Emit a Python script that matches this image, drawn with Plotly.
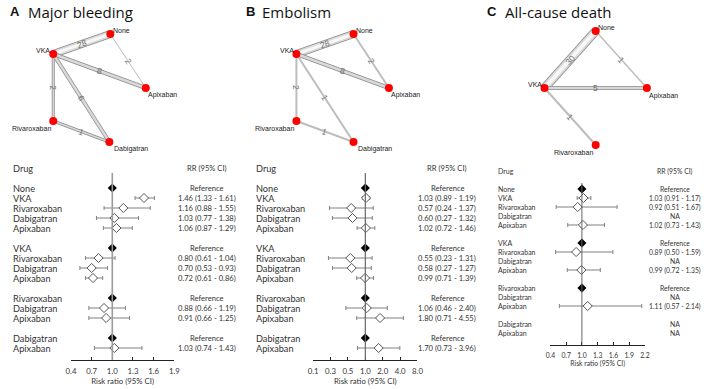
import math
import plotly.graph_objects as go

W, H = 709, 389

# ---------------- forest-plot data ----------------
drugs = ["None", "VKA", "Rivaroxaban", "Dabigatran", "Apixaban",
         "VKA", "Rivaroxaban", "Dabigatran", "Apixaban",
         "Rivaroxaban", "Dabigatran", "Apixaban",
         "Dabigatran", "Apixaban"]
group_sizes = [5, 4, 3, 2]

status_A = ["ref", "est", "est", "est", "est", "ref", "est", "est", "est",
            "ref", "est", "est", "ref", "est"]
rr_A = [1.0, 1.46, 1.16, 1.03, 1.06, 1.0, 0.80, 0.70, 0.72, 1.0, 0.88, 0.91, 1.0, 1.03]
lo_A = [None, 1.33, 0.88, 0.77, 0.87, None, 0.61, 0.53, 0.61, None, 0.66, 0.66, None, 0.74]
hi_A = [None, 1.61, 1.55, 1.38, 1.29, None, 1.04, 0.93, 0.86, None, 1.19, 1.25, None, 1.43]

status_B = list(status_A)
rr_B = [1.0, 1.03, 0.57, 0.60, 1.02, 1.0, 0.55, 0.58, 0.99, 1.0, 1.06, 1.80, 1.0, 1.70]
lo_B = [None, 0.89, 0.24, 0.27, 0.72, None, 0.23, 0.27, 0.71, None, 0.46, 0.71, None, 0.73]
hi_B = [None, 1.19, 1.37, 1.32, 1.46, None, 1.31, 1.27, 1.39, None, 2.40, 4.55, None, 3.96]

status_C = ["ref", "est", "est", "na", "est", "ref", "est", "na", "est",
            "ref", "na", "est", "na", "na"]
rr_C = [1.0, 1.03, 0.92, None, 1.02, 1.0, 0.89, None, 0.99, 1.0, None, 1.11, None, None]
lo_C = [None, 0.91, 0.51, None, 0.73, None, 0.50, None, 0.72, None, None, 0.57, None, None]
hi_C = [None, 1.17, 1.67, None, 1.43, None, 1.59, None, 1.35, None, None, 2.14, None, None]

ticks_lin_A = [0.4, 0.7, 1.0, 1.3, 1.6, 1.9]
ticks_log_B = [0.125, 0.25, 0.5, 1.0, 2.0, 4.0, 8.0]
ticktext_B = ["0.1", "0.3", "0.5", "1.0", "2.0", "4.0", "8.0"]
ticks_lin_C = [0.4, 0.7, 1.0, 1.3, 1.6, 1.9, 2.2]

# ---------------- network data ----------------
net_names_A = ["None", "VKA", "Apixaban", "Rivaroxaban", "Dabigatran"]
net_edges_A = [("VKA", "None", 28), ("None", "Apixaban", 2), ("VKA", "Apixaban", 8),
               ("VKA", "Rivaroxaban", 2), ("VKA", "Dabigatran", 6), ("Rivaroxaban", "Dabigatran", 1)]
net_names_B = ["None", "VKA", "Apixaban", "Rivaroxaban", "Dabigatran"]
net_edges_B = [("VKA", "None", 28), ("None", "Apixaban", 2), ("VKA", "Apixaban", 8),
               ("VKA", "Rivaroxaban", 2), ("VKA", "Dabigatran", 1), ("Rivaroxaban", "Dabigatran", 1)]
net_names_C = ["None", "VKA", "Apixaban", "Rivaroxaban"]
net_edges_C = [("VKA", "None", 30), ("None", "Apixaban", 1), ("VKA", "Apixaban", 5),
               ("VKA", "Rivaroxaban", 1)]

# network layout (pixel positions of nodes, edge drawing widths, label offsets)
layout_A = {"None": (107, 34), "VKA": (49, 54), "Apixaban": (143, 88),
            "Rivaroxaban": (49, 121), "Dabigatran": (106, 142)}
layout_B = {"None": (354, 34), "VKA": (296, 54), "Apixaban": (390, 88),
            "Rivaroxaban": (296, 121), "Dabigatran": (354, 142)}
layout_C = {"None": (600, 31), "VKA": (548, 88), "Apixaban": (652, 88),
            "Rivaroxaban": (600, 145)}
label_off = {"None": (11, -4), "VKA": (-10, -4), "Apixaban": (17, 7),
             "Rivaroxaban": (-22, 7), "Dabigatran": (22, 7)}
label_off_C = {"None": (11, -4), "VKA": (-10, -4), "Apixaban": (17, 8),
               "Rivaroxaban": (-23, 7)}
widths_A = [8, 1, 4, 3, 4, 3]
widths_B = [8, 2, 4, 2, 2, 2]
widths_C = [9, 1.5, 4, 2]

fig = go.Figure()

# ---------------- networks ----------------
def draw_network(names, edges, pos, widths, offs):
    for (a, b, n), w in zip(edges, widths):
        (x1, y1), (x2, y2) = pos[a], pos[b]
        if w <= 2:
            fig.add_trace(go.Scatter(x=[x1, x2], y=[y1, y2], mode="lines",
                                     line=dict(color="#bdbdbd", width=w),
                                     hoverinfo="skip", showlegend=False))
        else:
            fig.add_trace(go.Scatter(x=[x1, x2], y=[y1, y2], mode="lines",
                                     line=dict(color="#8c8c8c", width=w),
                                     hoverinfo="skip", showlegend=False))
            fig.add_trace(go.Scatter(x=[x1, x2], y=[y1, y2], mode="lines",
                                     line=dict(color="#d9d9d9", width=w - 1.6),
                                     hoverinfo="skip", showlegend=False))
            if w >= 6:
                fig.add_trace(go.Scatter(x=[x1, x2], y=[y1, y2], mode="lines",
                                         line=dict(color="#f7f7f7", width=w - 5),
                                         hoverinfo="skip", showlegend=False))
        ang = math.degrees(math.atan2(y2 - y1, x2 - x1))
        if ang > 90:
            ang -= 180
        if ang <= -90:
            ang += 180
        fig.add_annotation(x=(x1 + x2) / 2, y=(y1 + y2) / 2, xref="x", yref="y",
                           text=str(n), showarrow=False, textangle=ang,
                           font=dict(family="Liberation Sans", size=8.5, color="#707070"))
    fig.add_trace(go.Scatter(x=[pos[k][0] for k in names], y=[pos[k][1] for k in names],
                             mode="markers", marker=dict(color="#ff0000", size=8),
                             hoverinfo="skip", showlegend=False))
    for k in names:
        fig.add_annotation(x=pos[k][0] + offs[k][0], y=pos[k][1] + offs[k][1],
                           xref="x", yref="y", text=k, showarrow=False,
                           font=dict(family="Liberation Sans", size=7, color="#222"))

draw_network(net_names_A, net_edges_A, layout_A, widths_A, label_off)
draw_network(net_names_B, net_edges_B, layout_B, widths_B, label_off)
draw_network(net_names_C, net_edges_C, layout_C, widths_C, label_off_C)

# ---------------- forests ----------------
rows = []
r = 0
for g in group_sizes:
    for _ in range(g):
        rows.append(r)
        r += 1
    r += 1

def py(px):
    return 1 - px / H

FONT = "Lato"

panels = [
    dict(ax="2", status=status_A, rr=rr_A, lo=lo_A, hi=hi_A, xdom=(67, 172), ydom=(173, 360),
         r0=188, step=10, drug_x=6, rr_x=205, head_px=168, xtype="linear", xr=[0.4, 1.9],
         tv=ticks_lin_A, tt=[f"{v:.1f}" for v in ticks_lin_A], fs=9.2, vs=7.6, ts=7.8, lw=1.6,
         lc="#9a9a9a"),
    dict(ax="3", status=status_B, rr=rr_B, lo=lo_B, hi=hi_B, xdom=(313, 419), ydom=(173, 360),
         r0=188, step=10, drug_x=253, rr_x=449, head_px=168, xtype="log",
         xr=[math.log10(0.125), math.log10(8)], tv=ticks_log_B, tt=ticktext_B, fs=9.2, vs=7.6,
         ts=7.8, lw=1.2, lc="#666"),
    dict(ax="4", status=status_C, rr=rr_C, lo=lo_C, hi=hi_C, xdom=(554, 650), ydom=(183, 345),
         r0=189, step=9, drug_x=499, rr_x=681, head_px=171, xtype="linear", xr=[0.4, 2.2],
         tv=ticks_lin_C, tt=[f"{v:.1f}" for v in ticks_lin_C], fs=7.0, vs=6.8, ts=6.8, lw=1.0,
         lc="#666"),
]

for p in panels:
    a = p["ax"]
    top_r = (p["ydom"][0] - p["r0"]) / p["step"]
    bot_r = (p["ydom"][1] - p["r0"]) / p["step"]
    xa = "xaxis" + a
    ya = "yaxis" + a
    fig.layout[xa] = dict(domain=[p["xdom"][0] / W, p["xdom"][1] / W], anchor="y" + a,
                          type=p["xtype"], range=p["xr"], tickvals=p["tv"], ticktext=p["tt"],
                          showline=True, linecolor="#222", linewidth=1, ticks="inside",
                          ticklen=3, tickcolor="#222", showgrid=False, zeroline=False,
                          tickfont=dict(family=FONT, size=p["ts"], color="#333"),
                          ticklabelstandoff=4, fixedrange=True,
                          title=dict(text="Risk ratio (95% CI)", standoff=3,
                                     font=dict(family=FONT, size=p["ts"], color="#333")))
    fig.layout[ya] = dict(domain=[py(p["ydom"][1]), py(p["ydom"][0])], anchor="x" + a,
                          range=[bot_r, top_r], visible=False, fixedrange=True)
    fig.add_shape(type="line", xref="x" + a, yref="y" + a + " domain", x0=1, x1=1, y0=0, y1=1,
                  line=dict(color=p["lc"], width=p["lw"]))

    ex, ey, ep, em = [], [], [], []
    rx, ryy = [], []
    for i, st in enumerate(p["status"]):
        if st == "est":
            ex.append(p["rr"][i]); ey.append(rows[i])
            ep.append(p["hi"][i] - p["rr"][i]); em.append(p["rr"][i] - p["lo"][i])
        elif st == "ref":
            rx.append(p["rr"][i]); ryy.append(rows[i])
    fig.add_trace(go.Scatter(x=ex, y=ey, xaxis="x" + a, yaxis="y" + a, mode="markers",
                             error_x=dict(type="data", symmetric=False, array=ep, arrayminus=em,
                                          color="#808080", thickness=1, width=2),
                             marker=dict(symbol="diamond", size=7, color="white",
                                         line=dict(color="#555", width=1)),
                             hoverinfo="skip", showlegend=False))
    fig.add_trace(go.Scatter(x=rx, y=ryy, xaxis="x" + a, yaxis="y" + a, mode="markers",
                             marker=dict(symbol="diamond", size=7, color="black"),
                             hoverinfo="skip", showlegend=False))

    fig.add_annotation(x=p["drug_x"] / W, y=py(p["head_px"]), xref="paper", yref="paper",
                       text="Drug", xanchor="left", yanchor="middle", showarrow=False,
                       font=dict(family=FONT, size=p["fs"], color="#333"))
    fig.add_annotation(x=p["rr_x"] / W, y=py(p["head_px"]), xref="paper", yref="paper",
                       text="RR (95% CI)", xanchor="center", yanchor="middle", showarrow=False,
                       font=dict(family=FONT, size=p["vs"], color="#333"))
    for i, d in enumerate(drugs):
        fig.add_annotation(x=p["drug_x"] / W, y=rows[i], xref="paper", yref="y" + a, text=d,
                           xanchor="left", showarrow=False,
                           font=dict(family=FONT, size=p["fs"], color="#333"))
        st = p["status"][i]
        if st == "ref":
            t = "Reference"
        elif st == "na":
            t = "NA"
        else:
            t = f"{p['rr'][i]:.2f} ({p['lo'][i]:.2f} - {p['hi'][i]:.2f})"
        fig.add_annotation(x=p["rr_x"] / W, y=rows[i], xref="paper", yref="y" + a, text=t,
                           xanchor="center", showarrow=False,
                           font=dict(family=FONT, size=p["vs"], color="#333"))

# ---------------- panel titles ----------------
titles = [("A", 3, "Major bleeding", 21), ("B", 243, "Embolism", 259),
          ("C", 488, "All-cause death", 506)]
for letter, lx, name, nx in titles:
    fig.add_annotation(x=lx / W, y=py(12), xref="paper", yref="paper", text=f"<b>{letter}</b>",
                       xanchor="left", yanchor="middle", showarrow=False,
                       font=dict(family="Liberation Sans", size=13, color="#111"))
    fig.add_annotation(x=nx / W, y=py(12), xref="paper", yref="paper", text=name,
                       xanchor="left", yanchor="middle", showarrow=False,
                       font=dict(family="Open Sans", size=15, color="#111"))

fig.update_layout(
    width=W, height=H, margin=dict(l=0, r=0, t=0, b=0),
    paper_bgcolor="white", plot_bgcolor="rgba(0,0,0,0)",
    xaxis=dict(domain=[0, 1], range=[0, W], visible=False, fixedrange=True),
    yaxis=dict(domain=[0, 1], range=[H, 0], visible=False, fixedrange=True),
    showlegend=False,
)

fig.write_html("out.html", config={"displayModeBar": False, "staticPlot": True},
               post_script="document.body.style.margin='0';document.body.style.overflow='hidden';")
